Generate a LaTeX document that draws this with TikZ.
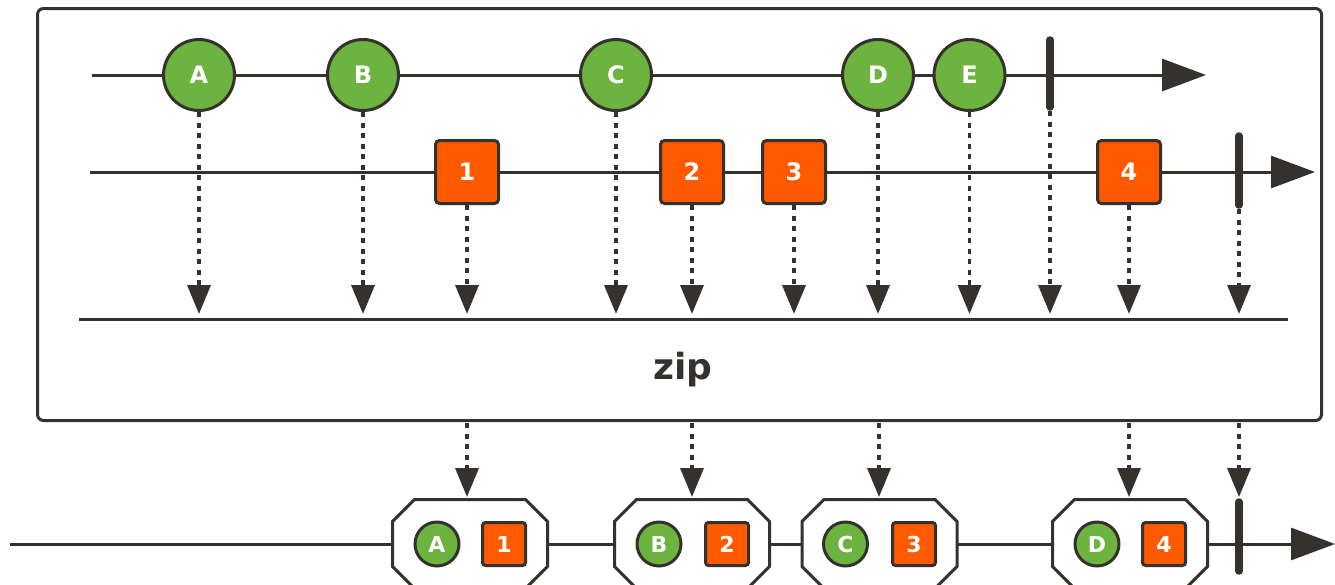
\documentclass[tikz,border=0pt]{standalone}
\usepackage{fontspec}
\setmainfont{DejaVu Sans}
\usetikzlibrary{arrows.meta}
\definecolor{ink}{HTML}{35312C}
\definecolor{grn}{HTML}{6DB33F}
\definecolor{org}{HTML}{FF5A00}
\begin{document}
\begin{tikzpicture}[x=1pt,y=-1pt,
  tline/.style={draw=ink,line width=3pt},
  bigarrow/.style={-{Triangle[length=44pt,width=32pt]}},
  dots/.style={draw=ink,line width=3.5pt,dash pattern=on 5pt off 5.5pt,-{Triangle[length=29pt,width=23pt]}},
  ev/.style={circle,draw=ink,fill=grn,line width=3pt,minimum size=71pt,inner sep=0pt,text=white,font=\fontsize{24}{24}\selectfont\bfseries},
  nv/.style={rectangle,rounded corners=4pt,draw=ink,fill=org,line width=3pt,minimum size=63pt,inner sep=0pt,text=white,font=\fontsize{24}{24}\selectfont\bfseries},
  sev/.style={circle,draw=ink,fill=grn,line width=3pt,minimum size=44pt,inner sep=0pt,text=white,font=\fontsize{22}{22}\selectfont\bfseries},
  snv/.style={rectangle,rounded corners=3pt,draw=ink,fill=org,line width=3pt,minimum size=43pt,inner sep=0pt,text=white,font=\fontsize{22}{22}\selectfont\bfseries},
  octbox/.style={rectangle,minimum width=155pt,minimum height=89pt,inner sep=0pt},
  octline/.style={draw=ink,fill=white,line width=3pt,line join=miter},
  bar/.style={draw=ink,line width=7.5pt,line cap=round},
  opbox/.style={draw=ink,line width=3pt,rounded corners=6pt,minimum width=1284pt,minimum height=412pt,inner sep=0pt}
]
\useasboundingbox (0,0) rectangle (1335,584);

% operator box
\node[opbox] (op) at (679.5,214.5) {};

% coordinates of line ends
\coordinate (t1s) at (92,75);
\coordinate (t1e) at (1206,75);
\coordinate (t2s) at (90,172);
\coordinate (t2e) at (1315,172);
\coordinate (zs) at (79,319);
\coordinate (ze) at (1288,319);
\coordinate (bs) at (10,544);
\coordinate (be) at (1335,544);

\draw[tline,bigarrow] (t1s) -- (t1e);
\draw[tline,bigarrow] (t2s) -- (t2e);
\draw[tline] (zs) -- (ze);
\draw[tline,bigarrow] (bs) -- (be);

% terminate bars
\coordinate (b1t) at (1050,40);
\coordinate (b1b) at (1050,107);
\coordinate (b2t) at (1239,136);
\coordinate (b2b) at (1239,205);
\coordinate (b3t) at (1239,502);
\coordinate (b3b) at (1239,571);
\draw[bar] (b1t) -- (b1b);
\draw[bar] (b2t) -- (b2b);
\draw[bar] (b3t) -- (b3b);

% top events
\node[ev] (A) at (199,75) {A};
\node[ev] (B) at (363,75) {B};
\node[ev] (C) at (616,75) {C};
\node[ev] (D) at (878,75) {D};
\node[ev] (E) at (969.5,75) {E};

\node[nv] (n1) at (467,172) {1};
\node[nv] (n2) at (692,172) {2};
\node[nv] (n3) at (794,172) {3};
\node[nv] (n4) at (1129,172) {4};

% arrow targets on zip line
\foreach \n/\x in {A/199,B/363,C/616,D/878,E/969.5,n1/467,n2/692,n3/794,n4/1129,b1/1050,b2/1239}
  \coordinate (z\n) at (\x,314);
\coordinate (b1d) at (1050,111);
\coordinate (b2d) at (1239,209);

\draw[dots] (A.south) -- (zA);
\draw[dots] (B.south) -- (zB);
\draw[dots] (C.south) -- (zC);
\draw[dots] (D.south) -- (zD);
\draw[dots] (E.south) -- (zE);
\draw[dots] (n1.south) -- (zn1);
\draw[dots] (n2.south) -- (zn2);
\draw[dots] (n3.south) -- (zn3);
\draw[dots] (n4.south) -- (zn4);
\draw[dots] (b1d) -- (zb1);
\draw[dots] (b2d) -- (zb2);

\node[text=ink,font=\fontsize{36}{36}\selectfont\bfseries,anchor=base] (ziplabel) at (683,379) {zip};

% output octagons
\foreach \n/\x in {o1/470,o2/692,o3/879.5,o4/1130}{
  \node[octbox] (\n) at (\x,544) {};
  \draw[octline,shift={(\n.center)}] (-55.5,-44.5) -- (55.5,-44.5) -- (77.5,-22.5) -- (77.5,22.5)
     -- (55.5,44.5) -- (-55.5,44.5) -- (-77.5,22.5) -- (-77.5,-22.5) -- cycle;
}

\node[sev] (rA) at (437,544) {A};
\node[snv] (r1) at (504,544) {1};
\node[sev] (rB) at (659,544) {B};
\node[snv] (r2) at (727,544) {2};
\node[sev] (rC) at (845.5,544) {C};
\node[snv] (r3) at (914,544) {3};
\node[sev] (rD) at (1097,544) {D};
\node[snv] (r4) at (1164,544) {4};

\foreach \n/\x in {o1/467,o2/692,o3/879,o4/1129,ob/1239}{
  \coordinate (s\n) at (\x,423);
  \coordinate (e\n) at (\x,497);
}
\draw[dots] (so1) -- (eo1);
\draw[dots] (so2) -- (eo2);
\draw[dots] (so3) -- (eo3);
\draw[dots] (so4) -- (eo4);
\draw[dots] (sob) -- (eob);
\end{tikzpicture}
\end{document}
